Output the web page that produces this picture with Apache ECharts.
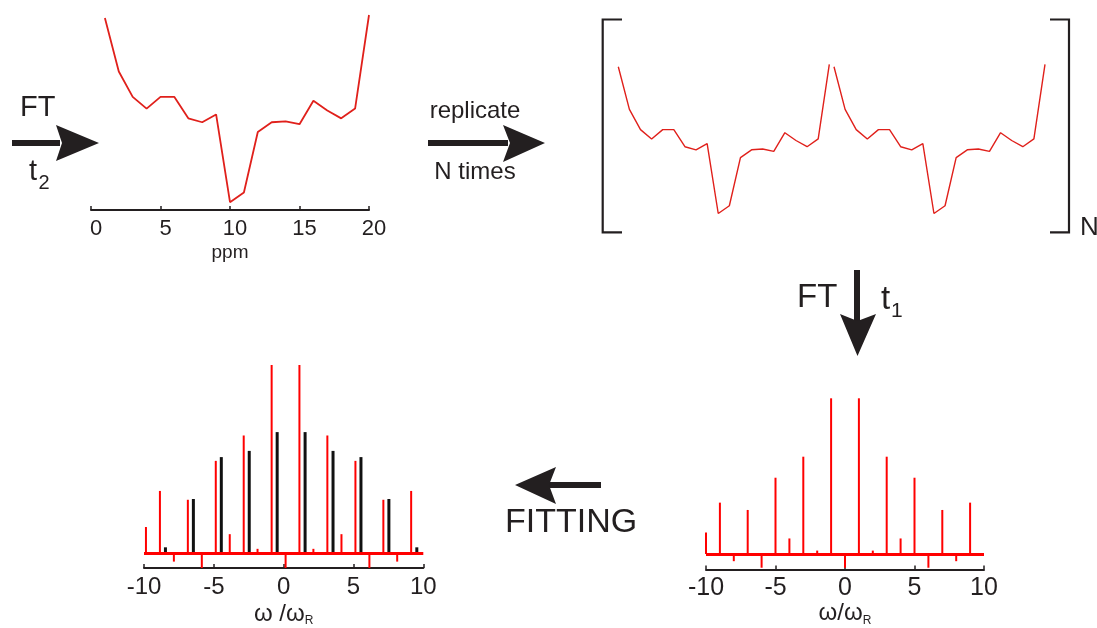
<!DOCTYPE html>
<html>
<head>
<meta charset="utf-8">
<script src="https://cdn.jsdelivr.net/npm/echarts@6/dist/echarts.min.js"></script>
<style>
  html, body { margin: 0; padding: 0; background: #fff; }
  #chart { width: 1097px; height: 628px; }
</style>
</head>
<body>
<div id="chart"></div>
<script>
  // t2 slice, intensity (arb. units) vs ppm
  var ppm = [1, 2, 3, 4, 5, 6, 7, 8, 9, 10, 11, 12, 13, 14, 15, 16, 17, 18, 19, 20];
  var slice = [98.5, 71, 58, 52, 58, 58, 47, 45, 49, 4, 9, 40, 45, 45.5, 44, 56, 51, 47, 52, 100];

  // sideband spectrum after FT over t1 (order, intensity)
  var sbOrder = [-10, -9, -8, -7, -6, -5, -4, -3, -2, -1, 0, 1, 2, 3, 4, 5, 6, 7, 8, 9];
  var sbInt = [13.8, 33, -4.6, 28.3, -8.8, 49, 10, 62.5, 2.2, 100, -8.8, 100, 2.2, 62.5, 10, 49, -8.8, 28.3, -4.6, 33];

  // fitting panel: measured (red) sidebands sit a bit right of the ticks
  var fitRedPos = [-9.86, -8.86, -7.86, -6.86, -5.86, -4.86, -3.86, -2.86, -1.87, -0.86,
                   0.14, 1.13, 2.13, 3.13, 4.14, 5.14, 6.14, 7.14, 8.13, 9.13];
  // fitted (black) sidebands
  var fitPos = [-8.5, -6.5, -4.5, -2.5, -0.5, 1.5, 3.5, 5.5, 7.5, 9.5];
  var fitInt = [3, 28.7, 51, 54.3, 64.3, 64.3, 54.3, 51, 28.7, 3];

  var ink = '#231f20';
  var red = '#e0201b';
  var font = '"Liberation Sans", Arial, sans-serif';

  function pairs(xs, ys) {
    return xs.map(function (x, i) { return [x, ys[i]]; });
  }

  function omegaName(text, gap) {
    return {
      name: text,
      nameLocation: 'middle',
      nameGap: gap,
      nameTextStyle: {
        rich: {
          a: { fontSize: 24, fontFamily: font, color: ink, lineHeight: 26 },
          b: { fontSize: 12, fontFamily: font, color: ink, verticalAlign: 'bottom', lineHeight: 12 }
        }
      }
    };
  }

  function tickAxis(grid, labelSize, margin) {
    return {
      gridIndex: grid,
      type: 'value',
      min: -10,
      max: 10,
      interval: 5,
      axisLine: { onZero: false, lineStyle: { color: ink, width: 2 } },
      axisTick: { inside: true, length: 4, lineStyle: { color: ink, width: 1.5 } },
      axisLabel: { fontSize: labelSize, fontFamily: font, color: ink, margin: margin },
      splitLine: { show: false }
    };
  }

  var baseline = {
    silent: true,
    symbol: ['none', 'none'],
    label: { show: false },
    lineStyle: { color: '#ff0000', width: 3, type: 'solid' },
    data: [{ yAxis: 0 }]
  };

  var ax3 = Object.assign(tickAxis(3, 24, 7), omegaName('{a|ω /ω}{b|R}', 33));
  var ax4 = Object.assign(tickAxis(4, 25, 6), omegaName('{a|ω/ω}{b|R}', 31));

  var option = {
    animation: false,
    grid: [
      { left: 91, top: 15, width: 278, height: 195 },
      { left: 618.3, top: 64.4, width: 211, height: 155.3 },
      { left: 834, top: 64.4, width: 211, height: 155.3 },
      { left: 144, top: 365, width: 279.3, height: 203.4 },
      { left: 706, top: 398.3, width: 278, height: 171.3 }
    ],
    xAxis: [
      {
        gridIndex: 0,
        type: 'value',
        min: 0,
        max: 20,
        interval: 5,
        axisLine: { onZero: false, lineStyle: { color: ink, width: 2 } },
        axisTick: { inside: true, length: 4, lineStyle: { color: ink, width: 1.5 } },
        axisLabel: { fontSize: 22, fontFamily: font, color: ink, margin: 8, padding: [0, 0, 0, 10] },
        splitLine: { show: false },
        name: 'ppm',
        nameLocation: 'middle',
        nameGap: 33,
        nameTextStyle: { fontSize: 19, fontFamily: font, color: ink }
      },
      { gridIndex: 1, type: 'value', min: 1, max: 20, show: false },
      { gridIndex: 2, type: 'value', min: 1, max: 20, show: false },
      ax3,
      ax4
    ],
    yAxis: [
      { gridIndex: 0, type: 'value', min: 0, max: 100, show: false },
      { gridIndex: 1, type: 'value', min: 0, max: 100, show: false },
      { gridIndex: 2, type: 'value', min: 0, max: 100, show: false },
      { gridIndex: 3, type: 'value', min: -8, max: 100, show: false },
      { gridIndex: 4, type: 'value', min: -10, max: 100, show: false }
    ],
    series: [
      {
        type: 'line', xAxisIndex: 0, yAxisIndex: 0,
        data: pairs(ppm, slice), symbol: 'none',
        lineStyle: { color: red, width: 1.8 }
      },
      {
        type: 'line', xAxisIndex: 1, yAxisIndex: 1,
        data: pairs(ppm, slice), symbol: 'none',
        lineStyle: { color: red, width: 1.4 }
      },
      {
        type: 'line', xAxisIndex: 2, yAxisIndex: 2,
        data: pairs(ppm, slice), symbol: 'none',
        lineStyle: { color: red, width: 1.4 }
      },
      {
        type: 'bar', xAxisIndex: 3, yAxisIndex: 3,
        data: pairs(fitPos, fitInt), barWidth: 3, barGap: '-100%',
        itemStyle: { color: '#111' }
      },
      {
        type: 'bar', xAxisIndex: 3, yAxisIndex: 3,
        data: pairs(fitRedPos, sbInt), barWidth: 2, barGap: '-100%',
        itemStyle: { color: '#ff0000' },
        markLine: baseline
      },
      {
        type: 'bar', xAxisIndex: 4, yAxisIndex: 4,
        data: pairs(sbOrder, sbInt), barWidth: 2,
        itemStyle: { color: '#ff0000' },
        markLine: baseline
      }
    ],
    graphic: [
      // brackets round the replicated slice
      { type: 'polyline', shape: { points: [[622, 19.5], [602.7, 19.5], [602.7, 232.3], [622, 232.3]] },
        style: { stroke: ink, lineWidth: 2.2, fill: null } },
      { type: 'polyline', shape: { points: [[1050, 19.5], [1069, 19.5], [1069, 232.3], [1050, 232.3]] },
        style: { stroke: ink, lineWidth: 2.2, fill: null } },

      // arrows
      { type: 'rect', shape: { x: 12, y: 140, width: 48, height: 6 }, style: { fill: ink } },
      { type: 'polygon', shape: { points: [[99, 143], [56, 125], [62, 143], [56, 161]] }, style: { fill: ink } },
      { type: 'rect', shape: { x: 428, y: 140, width: 80, height: 6 }, style: { fill: ink } },
      { type: 'polygon', shape: { points: [[545, 143], [503, 125], [510, 143], [503, 162]] }, style: { fill: ink } },
      { type: 'rect', shape: { x: 854, y: 270, width: 6, height: 52 }, style: { fill: ink } },
      { type: 'polygon', shape: { points: [[857.5, 356], [840, 314], [857.5, 321], [876, 314]] }, style: { fill: ink } },
      { type: 'rect', shape: { x: 548, y: 482, width: 53, height: 6 }, style: { fill: ink } },
      { type: 'polygon', shape: { points: [[515, 485], [556, 467], [549, 485], [556, 504]] }, style: { fill: ink } },

      // labels
      { type: 'text', x: 20, y: 108, style: { text: 'FT', font: '29px ' + font, fill: ink,
        align: 'left', verticalAlign: 'middle', textAlign: 'left', textVerticalAlign: 'middle' } },
      { type: 'text', x: 29, y: 172, style: { text: 't', font: '29px ' + font, fill: ink,
        align: 'left', verticalAlign: 'middle', textAlign: 'left', textVerticalAlign: 'middle' } },
      { type: 'text', x: 38.5, y: 183, style: { text: '2', font: '20px ' + font, fill: ink,
        align: 'left', verticalAlign: 'middle', textAlign: 'left', textVerticalAlign: 'middle' } },
      { type: 'text', x: 475, y: 111, style: { text: 'replicate', font: '24px ' + font, fill: ink,
        align: 'center', verticalAlign: 'middle', textAlign: 'center', textVerticalAlign: 'middle' } },
      { type: 'text', x: 475, y: 172, style: { text: 'N times', font: '24px ' + font, fill: ink,
        align: 'center', verticalAlign: 'middle', textAlign: 'center', textVerticalAlign: 'middle' } },
      { type: 'text', x: 1080, y: 228, style: { text: 'N', font: '26px ' + font, fill: ink,
        align: 'left', verticalAlign: 'middle', textAlign: 'left', textVerticalAlign: 'middle' } },
      { type: 'text', x: 797, y: 298, style: { text: 'FT', font: '33px ' + font, fill: ink,
        align: 'left', verticalAlign: 'middle', textAlign: 'left', textVerticalAlign: 'middle' } },
      { type: 'text', x: 881, y: 300, style: { text: 't', font: '33px ' + font, fill: ink,
        align: 'left', verticalAlign: 'middle', textAlign: 'left', textVerticalAlign: 'middle' } },
      { type: 'text', x: 891, y: 311, style: { text: '1', font: '21px ' + font, fill: ink,
        align: 'left', verticalAlign: 'middle', textAlign: 'left', textVerticalAlign: 'middle' } },
      { type: 'text', x: 505, y: 523, style: { text: 'FITTING', font: '34px ' + font, fill: ink,
        align: 'left', verticalAlign: 'middle', textAlign: 'left', textVerticalAlign: 'middle' } }
    ]
  };

  var chart = echarts.init(document.getElementById('chart'));
  chart.setOption(option);
</script>
</body>
</html>
